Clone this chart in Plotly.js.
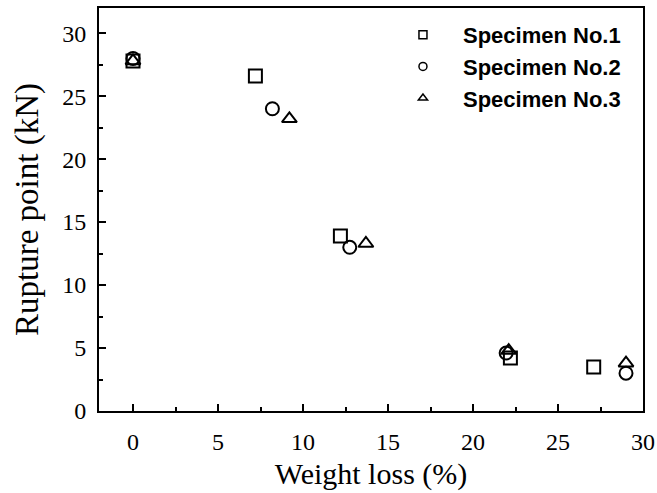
<!DOCTYPE html>
<html>
<head>
<meta charset="utf-8">
<script src="https://cdn.plot.ly/plotly-3.0.1.min.js"></script>
<style>html,body{margin:0;padding:0;background:#fff;}#chart{width:657px;height:493px;}</style>
</head>
<body>
<div id="chart"></div>
<script>
// Specimen No.1 (squares)
var spec1X = [0.0, 7.2, 12.2, 22.2, 27.1];
var spec1Y = [27.8, 26.6, 13.9, 4.2, 3.5];
// Specimen No.2 (circles)
var spec2X = [0.0, 8.2, 12.75, 21.95, 29.0];
var spec2Y = [28.0, 24.0, 13.0, 4.6, 3.0];
// Specimen No.3 (triangles)
var spec3X = [0.0, 9.2, 13.7, 22.1, 29.0];
var spec3Y = [27.8, 23.2, 13.3, 4.8, 3.8];

var seriesNames = ['Specimen No.1', 'Specimen No.2', 'Specimen No.3'];
var symbols = ['square-open', 'circle-open', 'triangle-up-open'];
var xs = [spec1X, spec2X, spec3X];
var ys = [spec1Y, spec2Y, spec3Y];

var traces = [];
for (var i = 0; i < 3; i++) {
  traces.push({
    x: xs[i], y: ys[i], type: 'scatter', mode: 'markers', name: seriesNames[i],
    showlegend: false, cliponaxis: false,
    marker: {symbol: symbols[i], size: 13, color: '#000', line: {width: 2, color: '#000'}}
  });
}
for (var j = 0; j < 3; j++) {
  traces.push({
    x: [null], y: [null], type: 'scatter', mode: 'markers', name: seriesNames[j],
    showlegend: true,
    marker: {symbol: symbols[j], size: 8, color: '#000', line: {width: 1.5, color: '#000'}}
  });
}

var axisCommon = {
  showgrid: false, zeroline: false, showline: true, linecolor: '#000', linewidth: 2,
  mirror: true, ticks: 'inside', ticklen: 7, tickwidth: 2, tickcolor: '#000',
  tickfont: {family: 'Liberation Serif, Times New Roman, serif', size: 24, color: '#000'}
};

var layout = {
  width: 657, height: 493,
  margin: {l: 99, r: 14, t: 8, b: 82},
  paper_bgcolor: '#fff', plot_bgcolor: '#fff',
  xaxis: Object.assign({}, axisCommon, {
    range: [-2, 30], tickvals: [0, 5, 10, 15, 20, 25, 30], ticklabelstandoff: 8,
    minor: {tickvals: [2.5, 7.5, 12.5, 17.5, 22.5, 27.5], ticks: 'inside', ticklen: 4, tickwidth: 2, tickcolor: '#000'},
    title: {text: 'Weight loss (%)', standoff: 9, font: {family: 'Liberation Serif, Times New Roman, serif', size: 30, color: '#000'}}
  }),
  yaxis: Object.assign({}, axisCommon, {
    range: [0, 32], tickvals: [0, 5, 10, 15, 20, 25, 30], ticklabelstandoff: 6,
    minor: {tickvals: [2.5, 7.5, 12.5, 17.5, 22.5, 27.5], ticks: 'inside', ticklen: 4, tickwidth: 2, tickcolor: '#000'},
    title: {text: 'Rupture point (kN)\u00a0\u00a0\u00a0\u00a0\u00a0', standoff: 14, font: {family: 'Liberation Serif, Times New Roman, serif', size: 33, color: '#000'}}
  }),
  showlegend: true,
  legend: {
    x: 0.522, y: 0.985, xanchor: 'left', yanchor: 'top',
    bgcolor: 'rgba(0,0,0,0)', borderwidth: 0, itemwidth: 70,
    font: {family: 'Liberation Sans, Arial, sans-serif', size: 22, color: '#000', weight: 'bold'},
    tracegroupgap: 0
  }
};

Plotly.newPlot('chart', traces, layout, {displayModeBar: false, staticPlot: true});
</script>
</body>
</html>
